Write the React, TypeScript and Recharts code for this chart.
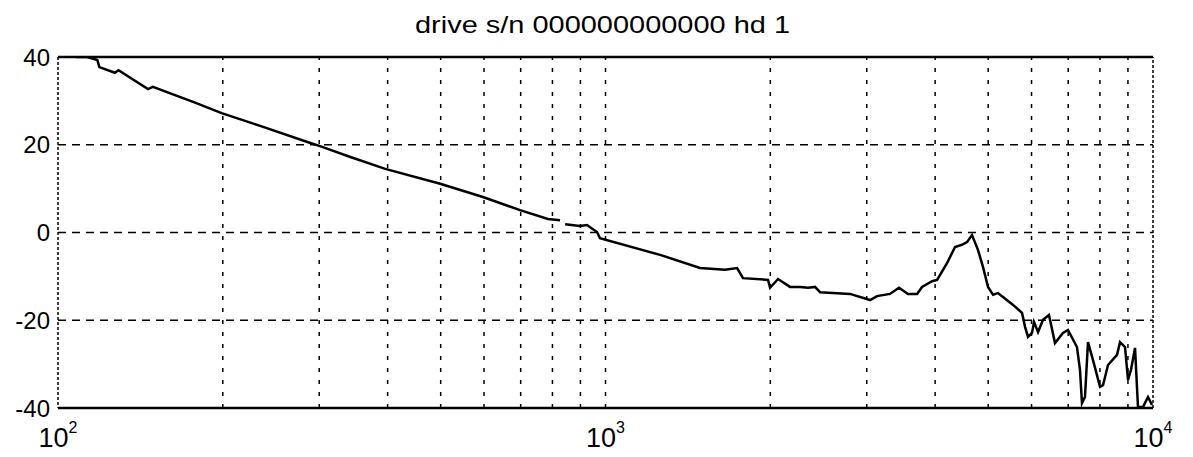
import React from 'react';
import { LineChart, Line, XAxis, YAxis, CartesianGrid, ReferenceLine } from 'recharts';

// frequency response (Hz, dB); null marks the small gap in the trace
const freqs = [
  100, 108, 113, 118, 119, 127, 129, 146, 149, 177, 199, 234, 289, 301, 342, 396, 499, 597, 698, 785, 826,
  835,
  844, 898, 925, 965, 977, 1258, 1488, 1653, 1739, 1783, 1981, 1998, 2066, 2173, 2266, 2344, 2414, 2465,
  2797, 3042, 3133, 3308, 3436, 3569, 3707, 3786, 3949, 4033, 4205, 4349, 4478, 4574, 4671, 4791, 4893,
  4997, 5103, 5211, 5321, 5551, 5765, 5838, 5912, 6012, 6063, 6166, 6297, 6457, 6622, 6848, 6994, 7263,
  7356, 7418, 7512, 7608, 7770, 8002, 8104, 8276, 8596, 8705, 8890, 9003, 9117, 9272, 9388, 9587, 9792, 9958,
];
const mags: (number | null)[] = [
  41, 40, 40, 39.3, 37.7, 36.4, 37.0, 32.7, 33.2, 29.7, 27.2, 24.3, 20.4, 19.7, 17.2, 14.5, 11.1, 8.1, 5.1, 3.1, 2.8,
  null,
  1.9, 1.5, 1.7, 0.1, -1.3, -5.1, -8.1, -8.5, -8.1, -10.4, -10.8, -12.6, -10.6, -12.4, -12.4, -12.6, -12.4, -13.6,
  -14.0, -15.4, -14.5, -14.0, -12.6, -14.0, -14.0, -12.4, -11.1, -10.8, -7.0, -3.3, -2.8, -2.2, -0.6, -4.0, -7.9,
  -12.4, -14.2, -13.8, -14.7, -16.5, -18.3, -21.5, -23.8, -22.9, -20.4, -22.7, -19.9, -18.8, -25.2, -22.9, -22.2, -26.1,
  -31.3, -38.9, -37.5, -25.0, -29.1, -35.2, -34.8, -30.2, -27.9, -25.0, -26.1, -33.6, -31.3, -26.3, -39.8, -39.8, -37.5, -39.3,
];

const xTicks = [100, 1000, 10000];
const yTicks = [-40, -20, 0, 20, 40];
const minorFreqs = [200, 300, 400, 500, 600, 700, 800, 900, 1000, 2000, 3000, 4000, 5000, 6000, 7000, 8000, 9000];

const title = 'drive s/n 000000000000 hd 1';

const data = freqs.map((f, i) => ({ f, mag: mags[i] }));

const font = '"Liberation Sans", Arial, sans-serif';

const PowerTick = (props: any) => {
  const { x, y, payload } = props;
  const exp = Math.round(Math.log10(payload.value));
  return (
    <text x={x} y={y + 39} textAnchor="middle" fontSize={27} fontFamily={font} fill="#000">
      10
      <tspan dy={-14} fontSize={16}>{exp}</tspan>
    </text>
  );
};

export default function App() {
  return (
    <div style={{ position: 'absolute', left: 0, top: 0, width: 1193, height: 457, background: '#fff' }}>
      <svg width={1193} height={50} style={{ position: 'absolute', left: 0, top: 0 }}>
        <text x={415} y={33} fontSize={24} fontFamily={font} fill="#000" textLength={375} lengthAdjust="spacingAndGlyphs">
          {title}
        </text>
      </svg>
      <LineChart width={1193} height={457} data={data} margin={{ top: 57, right: 40, bottom: 0, left: 8 }}>
        <CartesianGrid vertical={false} stroke="#000" strokeDasharray="8 6" strokeWidth={1.5} />
        {minorFreqs.map((f) => (
          <ReferenceLine key={f} x={f} stroke="#000" strokeWidth={1.5} strokeDasharray="4 8" />
        ))}
        <ReferenceLine y={40} stroke="#000" strokeWidth={2.5} />
        <ReferenceLine x={10000} stroke="#000" strokeWidth={1.5} strokeDasharray="3 2" />
        <XAxis
          dataKey="f"
          type="number"
          scale="log"
          domain={[100, 10000]}
          ticks={xTicks}
          allowDataOverflow
          height={49}
          tickSize={0}
          tickMargin={0}
          tick={<PowerTick />}
          axisLine={{ stroke: '#000', strokeWidth: 2.5 }}
        />
        <YAxis
          type="number"
          domain={[-40, 40]}
          ticks={yTicks}
          allowDataOverflow
          width={50}
          tickSize={0}
          tickMargin={8}
          tick={{ fontSize: 24, fill: '#000', fontFamily: font }}
          axisLine={{ stroke: '#000', strokeWidth: 1.5, strokeDasharray: '3 2' }}
        />
        <Line
          dataKey="mag"
          type="linear"
          stroke="#000"
          strokeWidth={2.5}
          dot={false}
          isAnimationActive={false}
        />
      </LineChart>
    </div>
  );
}
